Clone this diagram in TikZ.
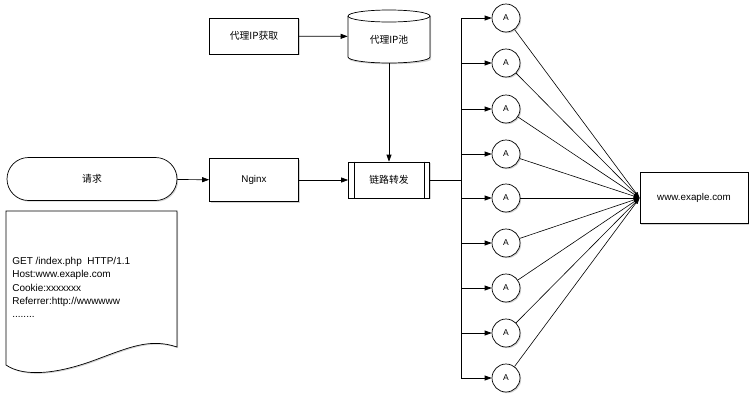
\documentclass[tikz,border=0pt]{standalone}
\usepackage{fontspec}
\setmainfont{Liberation Sans}
\newfontfamily\cjk{Noto Sans CJK SC}
\usetikzlibrary{arrows.meta,shadows}
\begin{document}
\begin{tikzpicture}[x=1pt,y=-1pt,
  shd/.style={drop shadow={shadow xshift=1.2pt,shadow yshift=-1.2pt,opacity=0.35,fill=gray}},
  box/.style={draw,fill=white,shd,inner sep=0pt,font=\fontsize{9.8}{11}\selectfont},
  anode/.style={circle,draw,fill=white,shd,minimum size=28pt,inner sep=0pt,font=\fontsize{8.5}{10}\selectfont},
  arr/.style={-{Triangle[length=7pt,width=5pt]}},
  line width=0.7pt]
\useasboundingbox (0,0) rectangle (755,400);
% request terminal
\node[box,rounded corners=21.5pt,minimum width=170pt,minimum height=43pt] (req) at (92,179) {\cjk 请求};
% document
\fill[gray,opacity=0.35,xshift=1.2pt,yshift=-1.2pt] (6,211) -- (177,211) -- (177,347) .. controls (150,338) and (130,347) .. (95,360) .. controls (60,373) and (25,378) .. (6,365) -- cycle;
\draw[fill=white] (6,211) -- (177,211) -- (177,347) .. controls (150,338) and (130,347) .. (95,360) .. controls (60,373) and (25,378) .. (6,365) -- cycle;
\node[anchor=north west,align=left,inner sep=0pt,font=\fontsize{10}{13.3}\selectfont] (doc) at (12,257) {GET /index.php\ \ HTTP/1.1\\Host:www.exaple.com\\Cookie:xxxxxxx\\Referrer:http://wwwwww\\........};
% boxes
\node[box,minimum width=89pt,minimum height=36pt] (get) at (254,36) {\cjk 代理IP获取};
\node[box,minimum width=89pt,minimum height=43pt] (ngx) at (254,180) {Nginx};
\node[box,minimum width=81pt,minimum height=36pt] (fwd) at (389,180) {\cjk 链路转发};
\draw ([xshift=6pt]fwd.north west) -- ([xshift=6pt]fwd.south west);
\draw ([xshift=-6pt]fwd.north east) -- ([xshift=-6pt]fwd.south east);
% cylinder
\node[minimum width=82pt,minimum height=53pt,inner sep=0pt] (pool) at (389,36.5) {};
\fill[gray,opacity=0.35,xshift=1.2pt,yshift=-1.2pt] (348,16) -- (348,58) arc[start angle=180,end angle=360,x radius=41,y radius=-5] -- (430,16) arc[start angle=0,end angle=180,x radius=41,y radius=-6] -- cycle;
\draw[fill=white] (348,16) -- (348,57) arc[start angle=180,end angle=360,x radius=41,y radius=-6] -- (430,16) arc[start angle=0,end angle=180,x radius=41,y radius=-6] -- cycle;
\draw (348,16) arc[start angle=180,end angle=360,x radius=41,y radius=-6];
\node[font=\fontsize{9.8}{11}\selectfont] at (389,40) {\cjk 代理IP池};
% target
\node[box,minimum width=108pt,minimum height=51pt] (www) at (694,198) {www.exaple.com};
% connectors
\draw[arr] (req) -- (ngx);
\draw[arr] (ngx) -- (fwd);
\draw[arr] (get) -- (pool);
\draw[arr] (pool) -- (fwd);
\coordinate (br) at (461,180);
\coordinate (btop) at (461,18);
\coordinate (bbot) at (461,378);
\draw (fwd) -- (br);
\draw (btop) -- (bbot);
\foreach \i/\y in {1/18,2/63,3/109,4/154,5/198,6/243,7/288,8/333,9/378}{
  \node[anode] (a\i) at (506,\y) {A};
  \coordinate (j\i) at (461,\y);
  \draw[arr] (j\i) -- (a\i);
  \draw[-{Latex[length=6pt,width=4pt]},line width=0.6pt] (a\i) -- (www.west);
}
\end{tikzpicture}
\end{document}
